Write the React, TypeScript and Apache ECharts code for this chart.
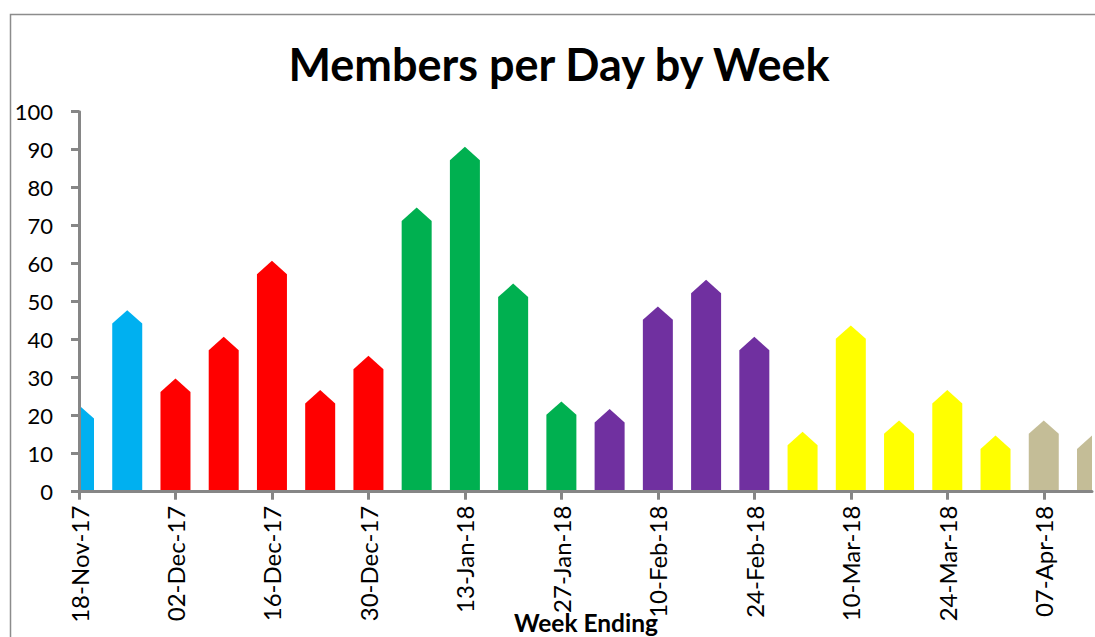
import React, { useEffect, useRef } from "react";
import * as echarts from "echarts";

const weeks = [
  "18-Nov-17", "25-Nov-17", "02-Dec-17", "09-Dec-17", "16-Dec-17", "23-Dec-17",
  "30-Dec-17", "06-Jan-18", "13-Jan-18", "20-Jan-18", "27-Jan-18", "03-Feb-18",
  "10-Feb-18", "17-Feb-18", "24-Feb-18", "03-Mar-18", "10-Mar-18", "17-Mar-18",
  "24-Mar-18", "31-Mar-18", "07-Apr-18", "14-Apr-18",
];
const membersPerDay = [21, 46, 28, 39, 59, 25, 34, 73, 89, 53, 22, 20, 47, 54, 39, 14, 42, 17, 25, 13, 17, 13];
const barColors = [
  "#00B0F0", "#00B0F0",
  "#FF0000", "#FF0000", "#FF0000", "#FF0000", "#FF0000",
  "#00B050", "#00B050", "#00B050", "#00B050",
  "#7030A0", "#7030A0", "#7030A0", "#7030A0",
  "#FFFF00", "#FFFF00", "#FFFF00", "#FFFF00", "#FFFF00",
  "#C4BD97", "#C4BD97",
];
const yTicks = { min: 0, max: 100, interval: 10 };

const FONT = "Lato, 'Open Sans', sans-serif";
const AXIS_GRAY = "#868686";

export default function App() {
  const ref = useRef<HTMLDivElement>(null);
  useEffect(() => {
    if (!ref.current) return;
    const chart = echarts.init(ref.current, undefined, { renderer: "svg" });
    const option: any = {
      animation: false,
      backgroundColor: "#ffffff",
      title: {
        text: "Members per Day by Week",
        left: 554,
        top: 36,
        textAlign: "center",
        textStyle: { fontFamily: FONT, fontWeight: "bold", fontSize: 45, color: "#000" },
      },
      graphic: [
        {
          type: "rect",
          shape: { x: 10.5, y: 14.5, width: 1200, height: 800 },
          style: { fill: "none", stroke: "#8c8c8c", lineWidth: 1.5 },
          silent: true,
          z: -1,
        },
        {
          type: "text",
          left: 514,
          top: 610,
          style: { text: "Week Ending", fontFamily: FONT, fontWeight: "bold", fontSize: 24.5, fill: "#000" },
        },
      ],
      grid: { left: 79, right: 3, top: 111.7, bottom: 145.3, containLabel: false },
      xAxis: {
        type: "category",
        data: weeks,
        boundaryGap: false,
        z: 5,
        axisLine: { show: true, lineStyle: { color: AXIS_GRAY, width: 3 } },
        axisTick: { show: true, interval: 1, length: 8, lineStyle: { color: AXIS_GRAY, width: 3 } },
        axisLabel: {
          interval: 1,
          rotate: 90,
          margin: 14,
          fontFamily: FONT,
          fontSize: 24,
          color: "#000",
        },
        splitLine: { show: false },
      },
      yAxis: {
        type: "value",
        min: yTicks.min,
        max: yTicks.max,
        interval: yTicks.interval,
        z: 5,
        axisLine: { show: true, lineStyle: { color: AXIS_GRAY, width: 3 } },
        axisTick: { show: true, length: 8, lineStyle: { color: AXIS_GRAY, width: 3 } },
        axisLabel: { margin: 26, fontFamily: FONT, fontSize: 22, color: "#000" },
        splitLine: { show: false },
      },
      series: [
        {
          type: "custom",
          clip: true,
          encode: { x: 0, y: 1 },
          data: membersPerDay.map((v, i) => [i, v]),
          renderItem: (params: any, api: any) => {
            const idx = api.value(0);
            const val = api.value(1);
            const top = api.coord([idx, val]);
            const base = api.coord([idx, 0]);
            const hw = 15;
            const tip = 6.7;
            const x = top[0];
            return {
              type: "polygon",
              shape: {
                points: [
                  [x - hw, base[1]],
                  [x - hw, top[1] + tip],
                  [x, top[1] - tip],
                  [x + hw, top[1] + tip],
                  [x + hw, base[1]],
                ],
              },
              style: { fill: barColors[params.dataIndex] },
            };
          },
        },
      ],
    };
    chart.setOption(option);
    return () => chart.dispose();
  }, []);
  return (
    <div
      ref={ref}
      style={{ position: "absolute", left: 0, top: 0, width: 1095, height: 637 }}
    />
  );
}
